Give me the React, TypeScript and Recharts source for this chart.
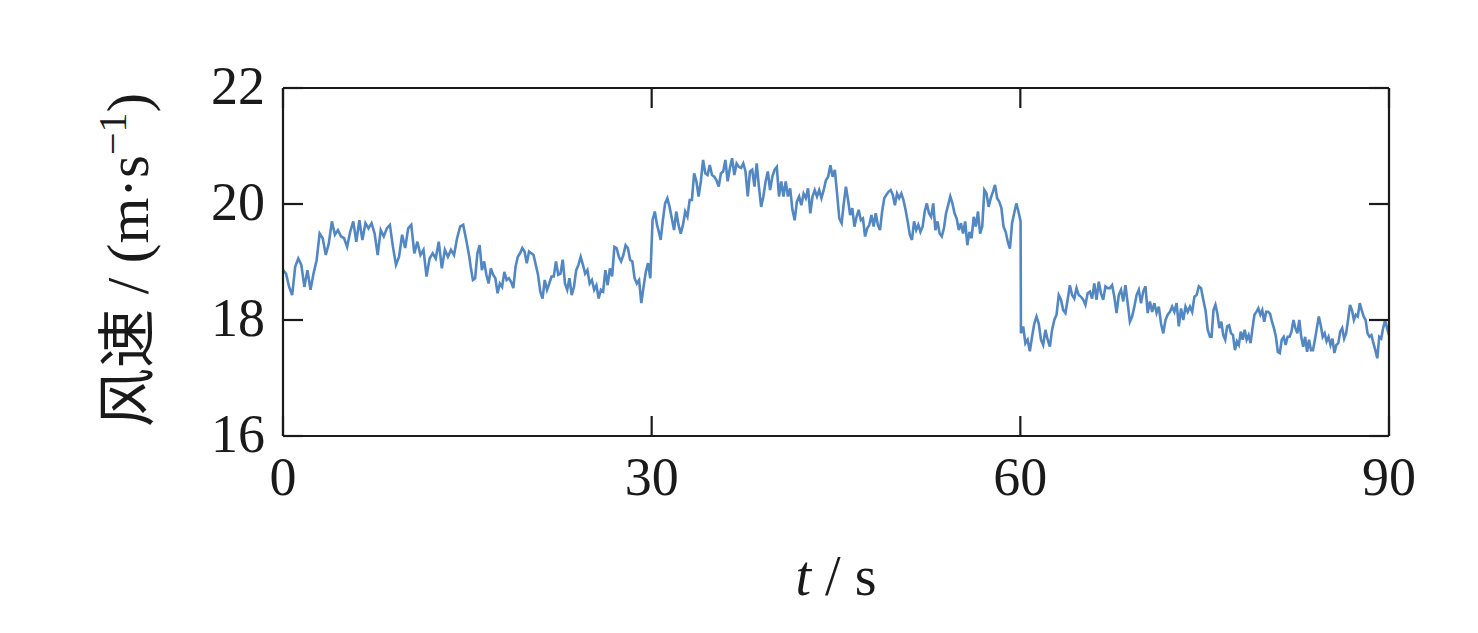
import React from 'react';
import { LineChart, Line, XAxis, YAxis } from 'recharts';

// wind speed readings (m/s), one array per stretch of the record
const speedA = [
  18.86, 18.8, 18.57, 18.43, 18.92, 19.06, 18.95, 18.57, 18.86, 18.52, 18.8, 19.03, 19.49, 19.41, 19.12, 19.32,
  19.7, 19.47, 19.55, 19.44, 19.41, 19.26, 19.52, 19.7, 19.35, 19.72, 19.38, 19.67, 19.58, 19.67, 19.49, 19.12,
  19.55, 19.44, 19.58, 19.64, 19.26, 18.95, 19.09, 19.47, 19.24, 19.58, 19.64, 19.15, 19.35, 19.12, 19.21, 18.75,
  19.06, 19.15, 19.06, 19.35, 18.89, 19.21, 19.09, 19.21, 19.12, 19.41, 19.61, 19.64, 19.38, 19.09,
];
const speedB = [
  18.92, 18.69, 18.72, 19.15, 19.29, 18.86, 19.01, 18.78, 18.63, 18.89, 18.78, 18.72, 18.46, 18.63, 18.57, 18.83,
  18.69, 18.72, 18.66, 18.55, 18.92, 19.09, 19.15, 19.24, 19.18, 18.98, 19.18, 19.15, 19.12, 18.95, 18.78, 18.49,
  18.37, 18.69, 18.52, 18.63, 18.75, 18.75, 19.01, 18.78, 18.8, 19.04, 18.63, 18.52, 18.72, 18.43, 18.57, 18.86,
  18.95, 19.09, 18.95, 18.8, 18.86, 18.63, 18.69, 18.52, 18.6, 18.37, 18.52, 18.49, 18.86, 18.6, 18.89, 18.75,
  19.26, 19.24, 19.09, 19.01, 19.12, 19.29, 19.24, 19.04, 19.01, 18.72, 18.63, 18.69, 18.29, 18.57, 18.83, 18.98,
  18.72, 19.72, 19.87, 19.64, 19.49,
];
const speedC = [
  19.38, 19.72, 20.01, 20.1, 19.95, 19.75, 19.55, 19.87, 19.64, 19.49, 19.64, 19.87, 19.78, 20.07, 20.07, 20.53,
  20.39, 20.13, 20.39, 20.76, 20.53, 20.5, 20.67, 20.5, 20.47, 20.41, 20.3, 20.53, 20.56, 20.76, 20.39, 20.62,
  20.79, 20.5, 20.7, 20.64, 20.62, 20.7, 20.56, 20.13, 20.56, 20.59, 20.3, 20.7, 20.3, 19.95, 20.13, 20.39,
  20.56, 20.24, 20.47, 20.59, 20.64, 20.13, 20.39, 20.13, 20.39, 20.13, 20.27, 19.9, 19.72, 20.04, 20.13, 19.98,
  20.18, 20.1, 20.27, 19.84, 20.13, 20.24, 20.13, 20.24, 20.1, 20.24, 20.41, 20.47, 20.67, 20.47, 20.59, 20.18,
  19.75,
];
const speedD = [
  19.67, 20.01, 20.3, 20.07, 19.81, 19.93, 19.61, 19.78, 19.9, 19.72, 19.75, 19.44, 19.58, 19.64, 19.81, 19.61,
  19.84, 19.64, 19.55, 19.87, 20.1, 20.16, 20.21, 20.24, 20.16, 19.98, 20.18, 20.1, 20.18, 20.07, 19.9, 19.7,
  19.47, 19.38, 19.7, 19.55, 19.64, 19.52, 19.61, 19.87, 20.01, 19.84, 19.78, 20.01, 19.55, 19.7, 19.49, 19.44,
  19.58, 19.84, 19.98, 20.13, 20.01, 19.84, 19.75, 19.55, 19.67, 19.49, 19.7, 19.29, 19.52, 19.41, 19.78, 19.61,
  19.87, 19.49, 19.61, 20.24, 20.18, 19.95, 20.1, 20.21, 20.33, 20.1, 20.04, 19.93, 19.61, 19.52, 19.35, 19.23,
  19.67, 19.84, 20.01, 19.87, 19.7,
];
const speedE = [
  17.77, 17.89, 17.6, 17.66, 17.46, 17.71, 17.94, 18.06, 17.94, 17.66, 17.57, 17.83, 17.66, 17.54, 17.83, 18.0,
  18.09, 18.43, 18.35, 18.17, 18.12, 18.35, 18.6, 18.43, 18.37, 18.55, 18.43, 18.4, 18.35, 18.26, 18.46, 18.49,
  18.37, 18.63, 18.35, 18.66, 18.46, 18.35, 18.58, 18.55, 18.55, 18.6, 18.4, 18.12, 18.43, 18.52, 18.32, 18.6,
  18.29, 17.97, 18.06, 18.23, 18.43, 18.52, 18.29, 18.49, 18.58, 18.12, 18.32, 18.14, 18.29, 18.12, 18.23, 17.94,
  17.77, 18.0, 18.09, 18.14, 18.23, 18.14, 18.29, 17.89, 18.2, 18.0, 18.23, 18.14, 18.23, 18.14, 18.4, 18.43,
  18.58, 18.55, 18.35, 18.17, 17.83, 17.71,
];
const speedF = [
  17.71, 18.17, 18.26, 18.11, 17.86, 17.97, 17.74, 17.66, 17.89, 17.91, 17.77, 17.74, 17.48, 17.63, 17.57, 17.8,
  17.66, 17.83, 17.66, 17.74, 17.6, 17.86, 18.09, 18.14, 18.2, 18.09, 18.17, 17.97, 18.14, 18.14, 18.11, 17.97,
  17.86, 17.71, 17.45, 17.43, 17.66, 17.71, 17.57, 17.71, 17.71, 17.8, 18.0, 17.86, 17.77, 18.0, 17.71, 17.54,
  17.71, 17.45, 17.66, 17.48, 17.48, 17.66, 17.86, 18.06, 17.91, 17.71, 17.77, 17.63, 17.71, 17.57, 17.68, 17.43,
  17.57, 17.6, 17.8, 17.86, 17.68, 17.77, 18.0, 18.26, 18.17, 18.0, 18.09, 18.06, 18.29, 18.17, 18.06, 18.0,
  17.77, 17.71, 17.74, 17.6, 17.48, 17.34, 17.71, 17.68, 17.86, 18.0, 17.86, 17.74,
];

// time span (s) covered by each stretch
const segments = [
  { from: 0, to: 15.16, values: speedA },
  { from: 15.27, to: 30.62, values: speedB },
  { from: 30.73, to: 45.27, values: speedC },
  { from: 45.46, to: 60.02, values: speedD },
  { from: 60.05, to: 75.43, values: speedE },
  { from: 75.56, to: 90, values: speedF },
];

const xTicks = [0, 30, 60, 90];
const yTicks = [16, 18, 20, 22];

const data = segments.flatMap((s) =>
  s.values.map((v, i) => ({ t: s.from + (i * (s.to - s.from)) / (s.values.length - 1), v })),
);

const INK = '#1a1a1a';
const SERIF = "'Liberation Serif', 'Times New Roman', 'Noto Sans CJK SC', serif";
const TICK_LEN = 20;

const BottomTick = ({ x, y, payload }: any) => (
  <g>
    <line x1={x} y1={y} x2={x} y2={y - TICK_LEN} stroke={INK} strokeWidth={2.2} />
    <text x={x} y={y + 59} textAnchor="middle" fontFamily={SERIF} fontSize={54} fill={INK}>
      {payload.value}
    </text>
  </g>
);

const TopTick = ({ x, y }: any) => (
  <line x1={x} y1={y} x2={x} y2={y + TICK_LEN} stroke={INK} strokeWidth={2.2} />
);

const LeftTick = ({ x, y, payload }: any) => (
  <g>
    <line x1={x} y1={y} x2={x + TICK_LEN} y2={y} stroke={INK} strokeWidth={2.2} />
    <text x={x - 18} y={y + 16} textAnchor="end" fontFamily={SERIF} fontSize={54} fill={INK}>
      {payload.value}
    </text>
  </g>
);

const RightTick = ({ x, y }: any) => (
  <line x1={x} y1={y} x2={x - TICK_LEN} y2={y} stroke={INK} strokeWidth={2.2} />
);

const XLabel = ({ viewBox }: any) => {
  const cx = viewBox.x + viewBox.width / 2;
  return (
    <text x={cx} y={viewBox.y + 159} textAnchor="middle" fontFamily={SERIF} fontSize={56} fill={INK}>
      <tspan fontStyle="italic">t</tspan> / s
    </text>
  );
};

const YLabel = ({ viewBox }: any) => {
  const cx = 148;
  const cy = viewBox.y + viewBox.height / 2 - 2;
  return (
    <text
      x={cx}
      y={cy}
      transform={`rotate(-90 ${cx} ${cy})`}
      textAnchor="middle"
      fontFamily={SERIF}
      fontSize={59}
      fill={INK}
    >
      风速 / (m·s
      <tspan dy={-22} fontSize={40}>
        −1
      </tspan>
      <tspan dy={22}>)</tspan>
    </text>
  );
};

export default function App() {
  const axisLine = { stroke: INK, strokeWidth: 2.2 };
  return (
    <div style={{ position: 'absolute', left: 0, top: 0, background: '#fff' }}>
      <LineChart width={1478} height={633} data={data} margin={{ top: 87, right: 88, bottom: 0, left: 0 }}>
        <XAxis
          dataKey="t"
          type="number"
          domain={[0, 90]}
          ticks={xTicks}
          height={197}
          tickSize={0}
          tickMargin={0}
          tickLine={false}
          axisLine={axisLine}
          tick={<BottomTick />}
          interval={0}
          label={XLabel}
        />
        <XAxis
          xAxisId="top"
          orientation="top"
          dataKey="t"
          type="number"
          domain={[0, 90]}
          ticks={xTicks}
          height={1}
          tickSize={0}
          tickMargin={0}
          tickLine={false}
          axisLine={axisLine}
          tick={<TopTick />}
          interval={0}
        />
        <YAxis
          type="number"
          domain={[16, 22]}
          ticks={yTicks}
          width={283}
          tickSize={0}
          tickMargin={0}
          tickLine={false}
          axisLine={axisLine}
          tick={<LeftTick />}
          interval={0}
          allowDataOverflow
          label={YLabel}
        />
        <YAxis
          yAxisId="right"
          orientation="right"
          type="number"
          domain={[16, 22]}
          ticks={yTicks}
          width={1}
          tickSize={0}
          tickMargin={0}
          tickLine={false}
          axisLine={axisLine}
          tick={<RightTick />}
          interval={0}
          allowDataOverflow
        />
        {/* invisible twin so the top and right frame axes get drawn */}
        <Line
          xAxisId="top"
          yAxisId="right"
          type="linear"
          dataKey="v"
          stroke="none"
          dot={false}
          activeDot={false}
          legendType="none"
          isAnimationActive={false}
        />
        <Line
          type="linear"
          dataKey="v"
          stroke="#5287c2"
          strokeWidth={2.6}
          dot={false}
          activeDot={false}
          isAnimationActive={false}
        />
      </LineChart>
    </div>
  );
}
